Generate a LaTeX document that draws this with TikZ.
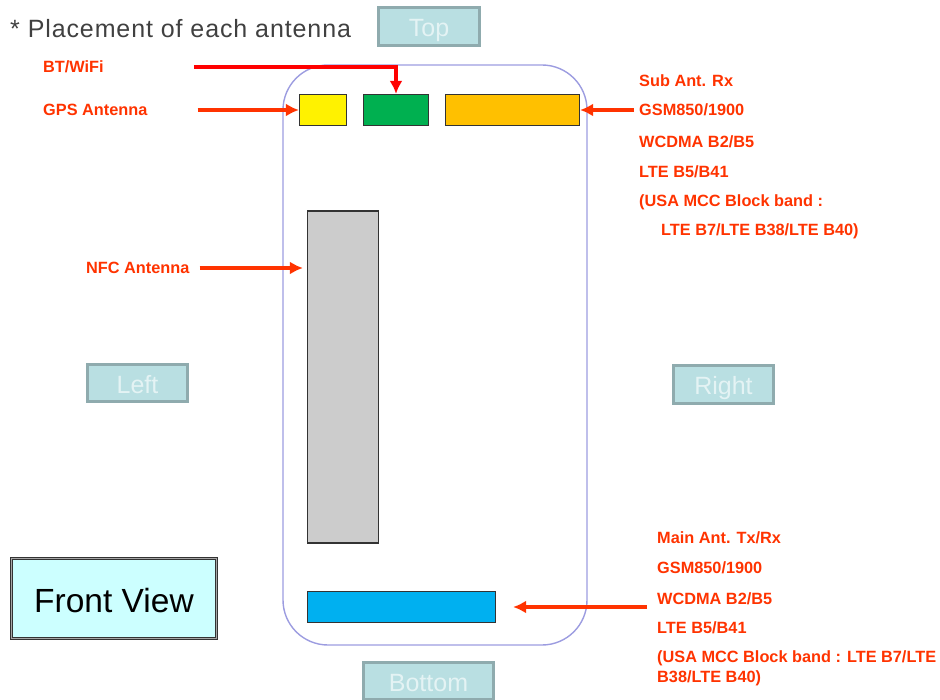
\documentclass[tikz,border=0pt]{standalone}
\usepackage{fontspec}
\setmainfont{Liberation Sans}
\usetikzlibrary{arrows.meta}
\definecolor{labelred}{HTML}{FF3300}
\definecolor{btred}{HTML}{FF0000}
\definecolor{phoneline}{HTML}{9C9CE0}
\definecolor{sidefill}{HTML}{B9DFE2}
\definecolor{sideline}{HTML}{8FABAE}
\definecolor{sidetext}{HTML}{E4F3F4}
\definecolor{viewfill}{HTML}{CCFFFF}
\tikzset{
  antbox/.style={draw=black!80, line width=1.2pt, inner sep=0pt},
  sidebox/.style={draw=sideline, fill=sidefill, line width=3pt, inner sep=0pt, text=sidetext, text height=21pt, text depth=0pt, font=\fontsize{25}{25}\selectfont},
  antlabel/.style={anchor=west, inner sep=0pt, text=labelred, font=\fontsize{16.3}{17}\bfseries\selectfont},
  antarrow/.style={-{Latex[length=13pt,width=13pt]}, labelred, line width=3.4pt}
}
\begin{document}
\begin{tikzpicture}[x=1pt,y=-1pt]
    \useasboundingbox (0,0) rectangle (940,700);

    % Title and view box
    \node[anchor=west, inner sep=0pt, text=black!75, font=\fontsize{25}{25}\selectfont\addfontfeature{LetterSpace=3.6}] (title) at (10,29) {* Placement of each antenna};
    \node[draw=black!80, double=gray!70, double distance=1.6pt, line width=0.8pt, fill=viewfill, minimum width=205pt, minimum height=80pt, inner sep=0pt, text height=27pt, text depth=0pt, font=\fontsize{33.5}{34}\selectfont] (view) at (114,598.5) {Front View};

    % Phone outline
    \node[draw=phoneline, line width=1.4pt, rounded corners=45pt, minimum width=304pt, minimum height=580pt] (phone) at (435,355) {};

    % Side boxes
    \node[sidebox, minimum width=101pt, minimum height=38pt] (top) at (429,26.5) {Top};
    \node[sidebox, minimum width=100pt, minimum height=37pt] (left) at (137.5,383) {Left};
    \node[sidebox, minimum width=100pt, minimum height=38pt] (right) at (723.5,384.5) {Right};
    \node[sidebox, minimum width=130pt, minimum height=37pt] (bottom) at (428.5,680.5) {Bottom};

    % Antennas
    \node[antbox, fill=yellow, minimum width=47pt, minimum height=31pt] (gps) at (323,110) {};
    \node[antbox, fill={rgb,255:red,0;green,176;blue,80}, minimum width=65pt, minimum height=31pt] (bt) at (396,110) {};
    \node[antbox, fill={rgb,255:red,255;green,192;blue,0}, minimum width=134pt, minimum height=31pt] (sub) at (512.5,110) {};
    \node[antbox, fill=black!20, minimum width=71pt, minimum height=332pt] (nfc) at (343,377) {};
    \node[antbox, fill={rgb,255:red,0;green,176;blue,240}, minimum width=188pt, minimum height=31pt] (main) at (401.5,607) {};

    % Labels on the left
    \node[antlabel] (btlabel) at (43,67) {BT/WiFi};
    \node[antlabel] (gpslabel) at (43,110) {GPS Antenna};
    \node[antlabel] (nfclabel) at (86,268) {NFC Antenna};

    % Sub antenna labels
    \node[antlabel] (sub1) at (639,81) {Sub Ant. Rx};
    \node[antlabel] (sub2) at (639,110) {GSM850/1900};
    \node[antlabel] (sub3) at (639,142) {WCDMA B2/B5};
    \node[antlabel] (sub4) at (639,172) {LTE B5/B41};
    \node[antlabel] (sub5) at (639,202) {(USA MCC Block band :};
    \node[antlabel] (sub6) at (661,231) {LTE B7/LTE B38/LTE B40)};

    % Main antenna labels
    \node[antlabel] (main1) at (657,538) {Main Ant. Tx/Rx};
    \node[antlabel] (main2) at (657,568) {GSM850/1900};
    \node[antlabel] (main3) at (657,599) {WCDMA B2/B5};
    \node[antlabel] (main4) at (657,628) {LTE B5/B41};
    \node[antlabel] (main5) at (657,658) {(USA MCC Block band : LTE B7/LTE};
    \node[antlabel] (main6) at (657,678) {B38/LTE B40)};
    \coordinate (mainstart) at (647,607);

    % Arrows
    \draw[antarrow, btred, shorten <=90pt] (btlabel.east) -| (bt.north);
    \draw[antarrow, shorten <=50pt] (gpslabel.east) -- (gps.west);
    \draw[antarrow, shorten <=5pt] (sub2.west) -- (sub.east);
    \draw[antarrow, shorten <=10pt, shorten >=4pt] (nfclabel.east) -- (nfc.west |- nfclabel.east);
    \draw[antarrow, shorten >=17pt] (mainstart) -- (main.east);
\end{tikzpicture}
\end{document}
